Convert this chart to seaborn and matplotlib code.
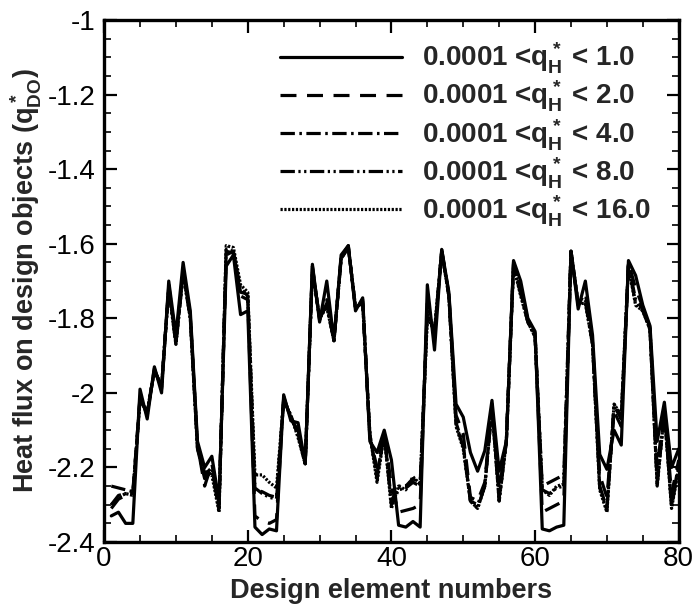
import matplotlib
matplotlib.use("Agg")
import matplotlib.pyplot as plt
from matplotlib.ticker import MultipleLocator, FuncFormatter
import pandas as pd
import seaborn as sns

# Design element index
elements = list(range(1, 81))

# Heat flux on design objects for each heat-flux range
q_1 = [-2.33, -2.32, -2.35, -2.35, -1.99, -2.07, -1.93, -2.00, -1.70, -1.845,
       -1.65, -1.78, -2.13, -2.20, -2.17, -2.29, -1.66, -1.63, -1.79, -1.78,
       -2.36, -2.38, -2.365, -2.37, -2.005, -2.075, -2.08, -2.19, -1.655, -1.81,
       -1.70, -1.86, -1.63, -1.605, -1.78, -1.745, -2.13, -2.16, -2.10, -2.18,
       -2.355, -2.36, -2.345, -2.36, -1.71, -1.885, -1.615, -1.73, -2.03, -2.065,
       -2.16, -2.21, -2.155, -2.02, -2.21, -2.13, -1.645, -1.70, -1.80, -1.835,
       -2.365, -2.37, -2.36, -2.355, -1.62, -1.775, -1.70, -1.845, -2.165, -2.205,
       -2.10, -2.14, -1.645, -1.685, -1.765, -1.82, -2.13, -2.025, -2.20, -2.15]

q_2 = [-2.31, -2.285, -2.275, -2.275, -2.01, -2.06, -1.935, -1.99, -1.71, -1.86,
       -1.67, -1.79, -2.14, -2.25, -2.19, -2.30, -1.63, -1.62, -1.74, -1.75,
       -2.33, -2.345, -2.35, -2.34, -2.01, -2.07, -2.10, -2.19, -1.66, -1.805,
       -1.75, -1.86, -1.635, -1.605, -1.775, -1.75, -2.12, -2.20, -2.105, -2.25,
       -2.32, -2.315, -2.31, -2.30, -1.76, -1.85, -1.615, -1.735, -2.06, -2.11,
       -2.28, -2.29, -2.24, -2.03, -2.26, -2.13, -1.65, -1.72, -1.805, -1.84,
       -2.32, -2.31, -2.30, -2.29, -1.62, -1.765, -1.73, -1.86, -2.22, -2.28,
       -2.05, -2.09, -1.65, -1.72, -1.77, -1.825, -2.20, -2.04, -2.27, -2.18]

q_4 = [-2.25, -2.255, -2.26, -2.265, -2.015, -2.055, -1.94, -1.985, -1.715, -1.865,
       -1.675, -1.795, -2.14, -2.22, -2.20, -2.31, -1.62, -1.625, -1.72, -1.74,
       -2.26, -2.265, -2.275, -2.28, -2.015, -2.065, -2.11, -2.19, -1.665, -1.80,
       -1.76, -1.86, -1.64, -1.61, -1.77, -1.755, -2.115, -2.22, -2.11, -2.29,
       -2.25, -2.25, -2.23, -2.245, -1.78, -1.84, -1.62, -1.74, -2.08, -2.14,
       -2.29, -2.30, -2.25, -2.035, -2.28, -2.13, -1.655, -1.73, -1.81, -1.845,
       -2.25, -2.24, -2.23, -2.22, -1.62, -1.76, -1.75, -1.865, -2.25, -2.31,
       -2.035, -2.07, -1.655, -1.75, -1.775, -1.83, -2.24, -2.05, -2.30, -2.19]

q_8 = [-2.30, -2.275, -2.27, -2.27, -2.02, -2.05, -1.94, -1.98, -1.72, -1.87,
       -1.68, -1.80, -2.15, -2.23, -2.21, -2.31, -1.615, -1.62, -1.73, -1.735,
       -2.255, -2.27, -2.28, -2.285, -2.02, -2.06, -2.115, -2.19, -1.67, -1.80,
       -1.765, -1.86, -1.64, -1.61, -1.77, -1.76, -2.11, -2.23, -2.11, -2.30,
       -2.26, -2.255, -2.24, -2.25, -1.79, -1.835, -1.62, -1.74, -2.085, -2.145,
       -2.29, -2.31, -2.25, -2.04, -2.29, -2.13, -1.66, -1.735, -1.81, -1.85,
       -2.26, -2.27, -2.255, -2.25, -1.62, -1.76, -1.755, -1.87, -2.255, -2.315,
       -2.03, -2.065, -1.66, -1.76, -1.78, -1.83, -2.245, -2.05, -2.305, -2.20]

q_16 = [-2.30, -2.28, -2.27, -2.275, -2.02, -2.05, -1.94, -1.98, -1.72, -1.87,
        -1.68, -1.80, -2.15, -2.21, -2.22, -2.32, -1.605, -1.61, -1.71, -1.73,
        -2.22, -2.22, -2.24, -2.255, -2.02, -2.06, -2.12, -2.19, -1.67, -1.80,
        -1.77, -1.86, -1.64, -1.61, -1.77, -1.76, -2.11, -2.24, -2.11, -2.31,
        -2.25, -2.26, -2.225, -2.245, -1.80, -1.83, -1.62, -1.74, -2.09, -2.15,
        -2.29, -2.31, -2.25, -2.04, -2.29, -2.13, -1.66, -1.74, -1.81, -1.85,
        -2.26, -2.275, -2.25, -2.245, -1.62, -1.76, -1.76, -1.87, -2.26, -2.32,
        -2.03, -2.06, -1.66, -1.765, -1.78, -1.83, -2.25, -2.05, -2.31, -2.20]

labels = [r"0.0001 <$q^*_{H}$ < 1.0",
          r"0.0001 <$q^*_{H}$ < 2.0",
          r"0.0001 <$q^*_{H}$ < 4.0",
          r"0.0001 <$q^*_{H}$ < 8.0",
          r"0.0001 <$q^*_{H}$ < 16.0"]

series = [q_1, q_2, q_4, q_8, q_16]
line_styles = ["-",
               (0, (5, 3.3)),
               (0, (4.5, 1.4, 0.8, 1.4)),
               (0, (4.5, 1.1, 0.7, 1.1, 0.7, 1.1)),
               (0, (0.7, 0.5))]

sns.set_theme(style="ticks")
plt.rcParams["font.family"] = ["Liberation Sans", "DejaVu Sans"]
plt.rcParams["axes.unicode_minus"] = False
plt.rcParams["mathtext.fontset"] = "custom"
plt.rcParams["mathtext.rm"] = "Liberation Sans:bold"
plt.rcParams["mathtext.it"] = "Liberation Sans:bold"
plt.rcParams["mathtext.bf"] = "Liberation Sans:bold"

fig = plt.figure(figsize=(6.94, 6.09), dpi=100)
ax = fig.add_axes([0.150, 0.110, 0.828, 0.857])

frames = []
for lab, vals in zip(labels, series):
    frames.append(pd.DataFrame({"element": elements, "flux": vals, "range": lab}))
df = pd.concat(frames, ignore_index=True)

# draw the widest range first so the solid line sits on top
for lab, ls in reversed(list(zip(labels, line_styles))):
    sub = df[df["range"] == lab]
    sns.lineplot(data=sub, x="element", y="flux", ax=ax, color="black",
                 linewidth=2.3, linestyle=ls, label=lab, estimator=None,
                 legend=False)

ax.set_xlim(0, 80)
ax.set_ylim(-2.4, -1.0)
ax.xaxis.set_major_locator(MultipleLocator(20))
ax.xaxis.set_minor_locator(MultipleLocator(5))
ax.yaxis.set_major_locator(MultipleLocator(0.2))
ax.yaxis.set_minor_locator(MultipleLocator(0.05))
ax.yaxis.set_major_formatter(FuncFormatter(lambda v, p: f"{v:g}"))

ax.tick_params(which="both", direction="in", top=True, right=True,
               colors="black", labelsize=20)
ax.tick_params(which="major", length=9, width=1.6)
ax.tick_params(which="minor", length=5, width=1.2)
ax.tick_params(axis="x", which="major", pad=3)
ax.tick_params(axis="y", which="major", pad=6)
for side in ax.spines.values():
    side.set_linewidth(2.4)
    side.set_color("black")

ax.set_xlabel("Design element numbers", fontsize=19.5, fontweight="bold", labelpad=4)
ax.set_ylabel(r"Heat flux on design objects ($q^*_{DO}$)", fontsize=19.5,
              fontweight="bold", labelpad=3)

handles, hlabels = ax.get_legend_handles_labels()
order = [hlabels.index(l) for l in labels]
leg = ax.legend([handles[i] for i in order], [hlabels[i] for i in order],
                loc="upper right", bbox_to_anchor=(0.985, 0.997), frameon=False,
                prop={"family": "Liberation Sans", "weight": "bold", "size": 20},
                handlelength=4.4, handletextpad=0.7, labelspacing=0.1,
                borderaxespad=0.3)

fig.savefig("out.png", dpi=100, facecolor="white")
